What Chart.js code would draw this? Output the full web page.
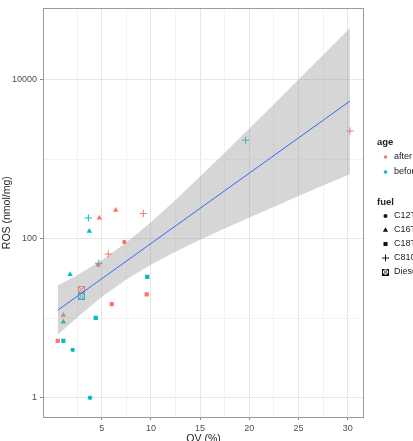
<!DOCTYPE html>
<html>
<head>
<meta charset="utf-8">
<script src="https://cdn.jsdelivr.net/npm/chart.js@4.4.1/dist/chart.umd.min.js"></script>
<style>
  html, body { margin: 0; padding: 0; background: #fff; overflow: hidden; }
  #wrap { position: relative; width: 413px; height: 441px; }
</style>
</head>
<body>
<div id="wrap"><canvas id="chart" width="413" height="441"></canvas></div>
<script>
// --- data (OV in %, ROS in nmol/mg) ---
const AGES  = ['after', 'before'];
const FUELS = ['C12T', 'C16T', 'C18T', 'C810', 'Diesel'];
const AGE_COLORS = ['#F8766D', '#00BFC4'];

const ovAfterC12  = [7.3, 4.65];          const rosAfterC12  = [91, 47];
const ovAfterC16  = [4.76, 6.42, 1.1];    const rosAfterC16  = [182, 228, 10.9];
const ovAfterC18  = [9.57, 6.02, 0.53];   const rosAfterC18  = [20, 15, 5.2];
const ovAfterC81  = [9.23, 5.67, 30.23];  const rosAfterC81  = [207, 64, 2262];
const ovAfterDie  = [2.93];               const rosAfterDie  = [23];

const ovBeforeC12 = [2.05, 3.81];         const rosBeforeC12 = [4.0, 1.0];
const ovBeforeC16 = [3.74, 1.78, 1.1];    const rosBeforeC16 = [124, 35.5, 9.0];
const ovBeforeC18 = [9.63, 4.39, 1.1];    const rosBeforeC18 = [33, 10.1, 5.2];
const ovBeforeC81 = [3.64, 4.7, 19.63];   const rosBeforeC81 = [182, 49, 1733];
const ovBeforeDie = [2.93];               const rosBeforeDie = [19];

// fitted line (lm on log scale) and its confidence band
const fitOV  = [0.53, 30.23];
const fitROS = [12.6, 5370];
const bandOV    = [0.53, 2.5, 5, 7.5, 10, 12.5, 15, 17.5, 20, 22.5, 25, 27.5, 30.23];
const bandUpper = [25.8, 34.8, 53.7, 89.3, 161, 307, 604, 1205, 2427, 4920, 10020, 20460, 44670];
const bandLower = [6.19, 10.2, 18.5, 30.7, 47.1, 68.4, 96.6, 134, 184, 251, 343, 465, 646];

const xTicks = [5, 10, 15, 20, 25, 30];
const xMinor = [2.5, 7.5, 12.5, 17.5, 22.5, 27.5];
const yTicks = [1, 100, 10000];
const yMinor = [10, 1000];

// --- helpers ---
const FONT = '"Liberation Sans", Arial, sans-serif';
const pts = (xs, ys) => xs.map((x, i) => ({x, y: ys[i]}));

function dieselMark(color) {
    const c = document.createElement('canvas');
    c.width = 7; c.height = 7;
    const g = c.getContext('2d');
    g.strokeStyle = color; g.lineWidth = 1;
    g.strokeRect(0.5, 0.5, 6, 6);
    g.beginPath();
    g.moveTo(0.5, 0.5); g.lineTo(6.5, 6.5);
    g.moveTo(6.5, 0.5); g.lineTo(0.5, 6.5);
    g.stroke();
    return c;
}

const groups = [
    [0, 0, ovAfterC12,  rosAfterC12],  [0, 1, ovAfterC16,  rosAfterC16],
    [0, 2, ovAfterC18,  rosAfterC18],  [0, 3, ovAfterC81,  rosAfterC81],
    [0, 4, ovAfterDie,  rosAfterDie],
    [1, 0, ovBeforeC12, rosBeforeC12], [1, 1, ovBeforeC16, rosBeforeC16],
    [1, 2, ovBeforeC18, rosBeforeC18], [1, 3, ovBeforeC81, rosBeforeC81],
    [1, 4, ovBeforeDie, rosBeforeDie],
];

const STYLE  = ['circle', 'triangle', 'rect', 'cross', null];
const RADIUS = [2.2, 3.2, 3, 3.6, 3.5];

const pointSets = groups.map(([a, f, xs, ys]) => {
    const col = AGE_COLORS[a];
    return {
        data: pts(xs, ys),
        pointStyle: f === 4 ? dieselMark(col) : STYLE[f],
        pointRadius: RADIUS[f],
        backgroundColor: col,
        borderColor: col,
        borderWidth: f === 3 ? 1 : 0,
        showLine: false,
        order: 2,
    };
});

const bandSets = [
    { data: pts(bandOV, bandUpper), showLine: true, pointRadius: 0, borderWidth: 0,
      borderColor: 'rgba(0,0,0,0)', fill: '+1', backgroundColor: 'rgba(153,153,153,0.4)', order: 1 },
    { data: pts(bandOV, bandLower), showLine: true, pointRadius: 0, borderWidth: 0,
      borderColor: 'rgba(0,0,0,0)', fill: false, order: 1 },
];

const fitSet = { data: pts(fitOV, fitROS), showLine: true, pointRadius: 0,
                 borderColor: '#3366FF', borderWidth: 1, fill: false, order: 0 };

// titles, panel frame and ggplot-like legend
const decor = {
    id: 'decor',
    afterDatasetsDraw(chart) {
        const {ctx, chartArea: a} = chart;
        ctx.save();
        ctx.strokeStyle = '#9a9a9a';
        ctx.lineWidth = 1;
        ctx.strokeRect(Math.round(a.left) + 0.5, Math.round(a.top) + 0.5,
                       Math.round(a.right - a.left) - 1, Math.round(a.bottom - a.top));
        ctx.restore();
    },
    afterDraw(chart) {
        const {ctx, chartArea: a} = chart;
        ctx.save();
        ctx.fillStyle = '#222';
        ctx.font = '10.5px ' + FONT;
        ctx.textAlign = 'center';
        ctx.textBaseline = 'middle';
        ctx.save();
        ctx.translate(7, (a.top + a.bottom) / 2);
        ctx.rotate(-Math.PI / 2);
        ctx.fillText('ROS (nmol/mg)', 0, 0);
        ctx.restore();
        ctx.textBaseline = 'top';
        ctx.fillText('OV (%)', (a.left + a.right) / 2, 434);

        // legend
        const kx = 385.5, tx = 394;
        ctx.textAlign = 'left';
        ctx.textBaseline = 'middle';
        ctx.font = 'bold 9.5px ' + FONT;
        ctx.fillText('age', 377, 142);
        ctx.fillText('fuel', 377, 202);
        ctx.font = '9px ' + FONT;
        const ageY = [157, 172];
        AGES.forEach((lab, i) => {
            ctx.fillStyle = AGE_COLORS[i];
            ctx.beginPath(); ctx.arc(kx, ageY[i], 1.8, 0, Math.PI * 2); ctx.fill();
            ctx.fillStyle = '#222';
            ctx.fillText(lab, tx, ageY[i]);
        });
        const fuelY = [216, 230, 244, 258, 272];
        FUELS.forEach((lab, i) => {
            const y = fuelY[i];
            ctx.fillStyle = '#111'; ctx.strokeStyle = '#111'; ctx.lineWidth = 1;
            ctx.beginPath();
            if (i === 0) { ctx.arc(kx, y, 2, 0, Math.PI * 2); ctx.fill(); }
            if (i === 1) { ctx.moveTo(kx, y - 2.8); ctx.lineTo(kx + 2.6, y + 1.8); ctx.lineTo(kx - 2.6, y + 1.8); ctx.closePath(); ctx.fill(); }
            if (i === 2) { ctx.fillRect(kx - 2, y - 2, 4, 4); }
            if (i === 3) { ctx.moveTo(kx - 3.5, y); ctx.lineTo(kx + 3.5, y); ctx.moveTo(kx, y - 3.5); ctx.lineTo(kx, y + 3.5); ctx.stroke(); }
            if (i === 4) { ctx.drawImage(dieselMark('#111'), kx - 3.5, y - 3.5); }
            ctx.fillStyle = '#222';
            ctx.fillText(lab, tx, y);
        });
        ctx.restore();
    }
};

const majorGrid = '#e6e6e6', minorGrid = '#f3f3f3';

new Chart(document.getElementById('chart'), {
    type: 'scatter',
    data: { datasets: [...pointSets, ...bandSets, fitSet] },
    options: {
        responsive: false,
        animation: false,
        events: [],
        layout: { padding: { left: 0, right: 49, top: 8, bottom: 0 } },
        plugins: { legend: { display: false }, tooltip: { enabled: false } },
        scales: {
            x: {
                type: 'linear', min: -0.97, max: 31.66,
                afterFit: s => { s.height = 24; },
                afterBuildTicks: s => { s.ticks = [...xMinor, ...xTicks].sort((p, q) => p - q).map(v => ({value: v})); },
                border: { display: false },
                grid: {
                    color: c => xMinor.includes(c.tick.value) ? minorGrid : majorGrid,
                    tickColor: c => xMinor.includes(c.tick.value) ? 'rgba(0,0,0,0)' : '#8a8a8a',
                    tickLength: 3,
                },
                ticks: {
                    autoSkip: false, maxRotation: 0, padding: 3, color: '#4d4d4d',
                    font: { size: 9, family: FONT },
                    callback: v => xTicks.includes(v) ? String(v) : '',
                },
            },
            y: {
                type: 'logarithmic', min: 0.572, max: 78700,
                afterFit: s => { s.width = 43; },
                afterBuildTicks: s => { s.ticks = [1, 10, 100, 1000, 10000].map(v => ({value: v})); },
                border: { display: false },
                grid: {
                    color: c => yMinor.includes(c.tick.value) ? minorGrid : majorGrid,
                    tickColor: c => yMinor.includes(c.tick.value) ? 'rgba(0,0,0,0)' : '#8a8a8a',
                    tickLength: 3,
                },
                ticks: {
                    autoSkip: false, padding: 3, color: '#4d4d4d',
                    font: { size: 9, family: FONT },
                    callback: v => yTicks.includes(v) ? String(v) : '',
                },
            },
        },
    },
    plugins: [decor],
});
</script>
</body>
</html>
